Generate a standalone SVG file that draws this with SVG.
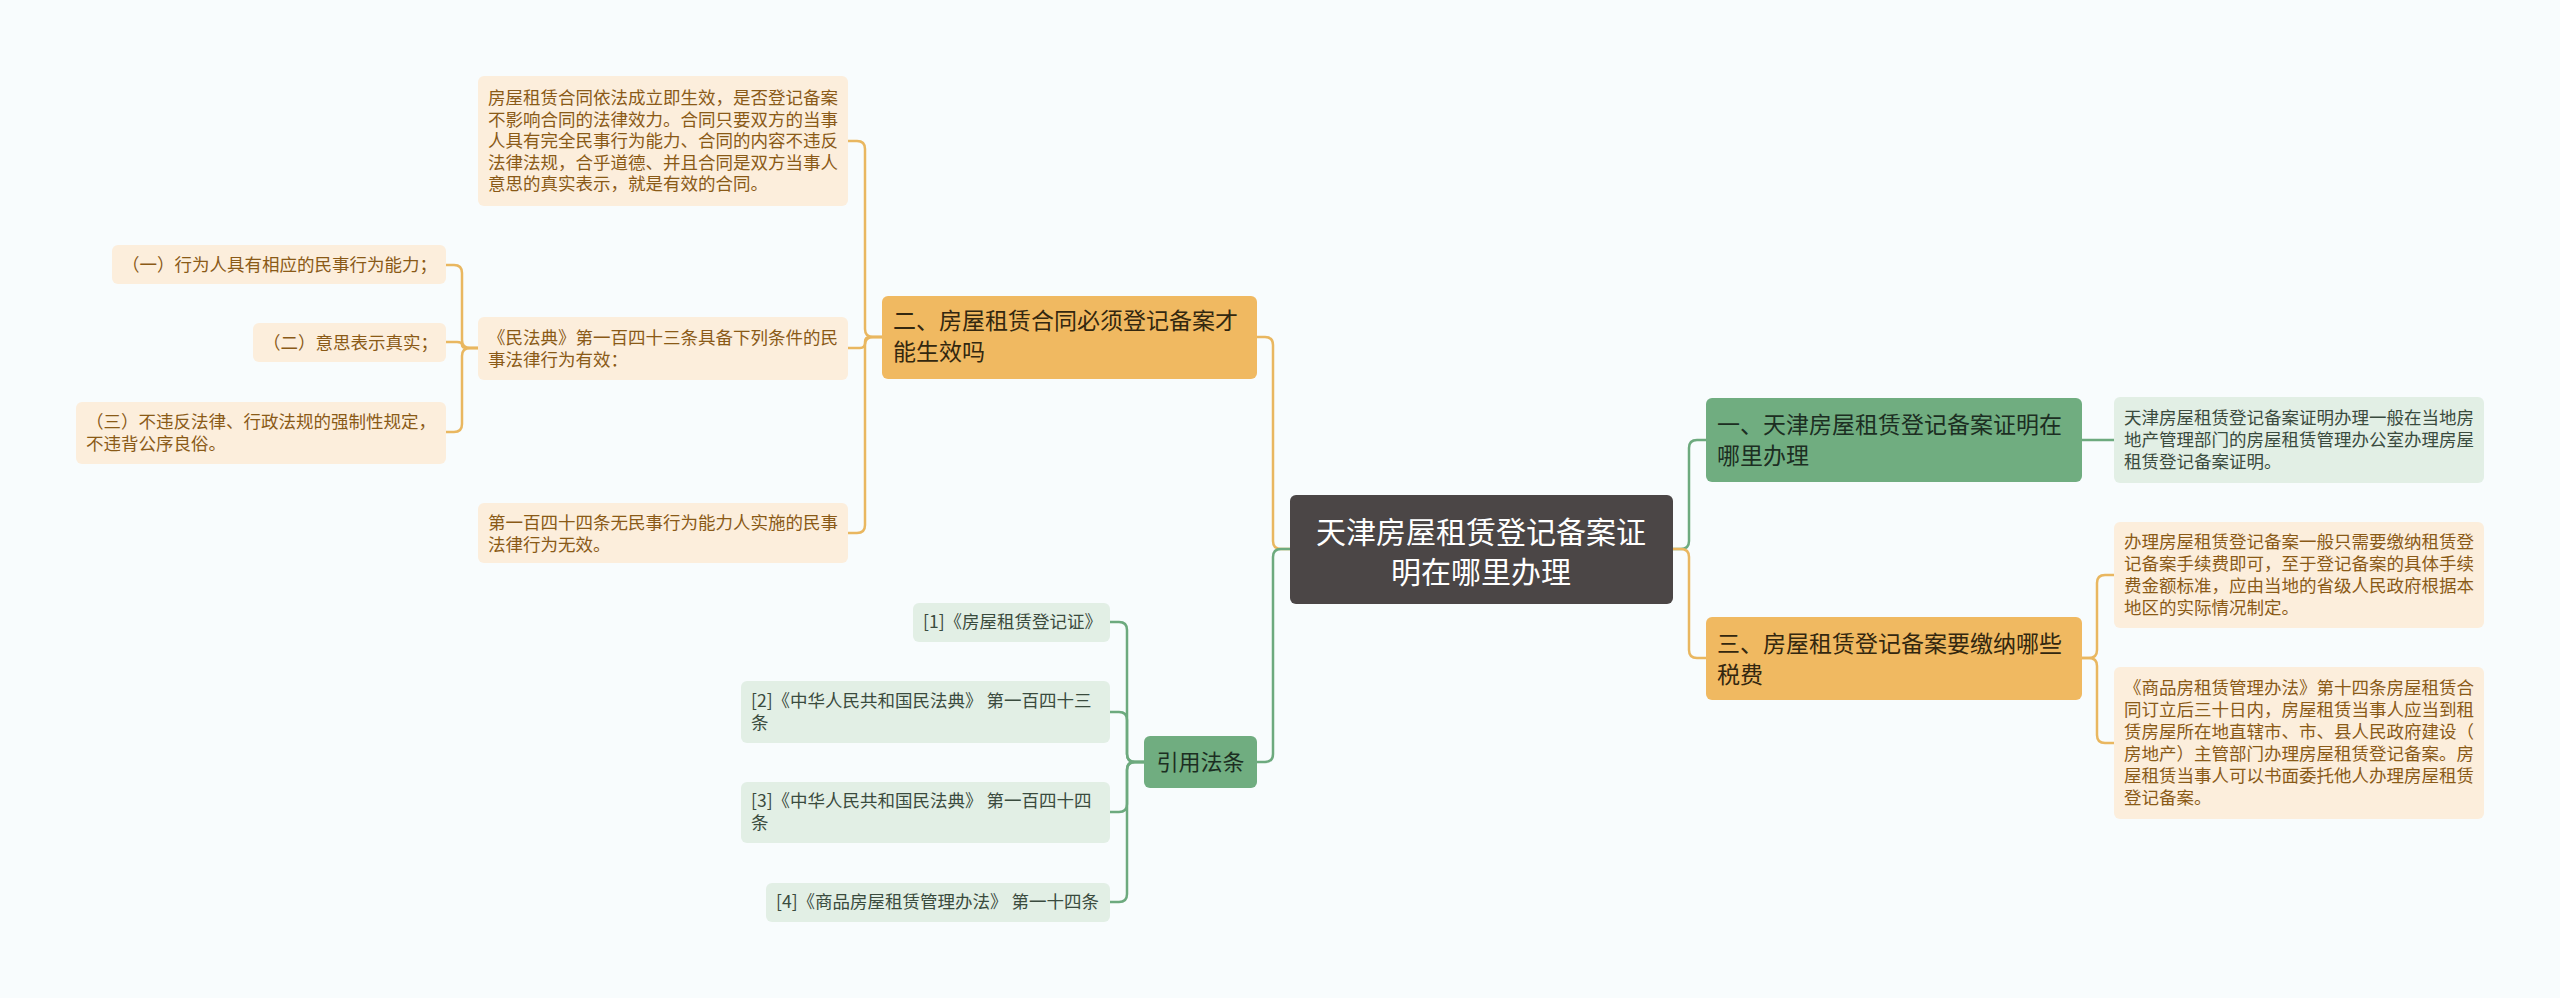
<svg xmlns="http://www.w3.org/2000/svg" width="2560" height="998" viewBox="0 0 2560 998">
<style>
.bg{fill:#F8FCFD}
text{font-family:"Noto Sans CJK SC","Noto Sans",sans-serif}
.root rect{fill:#4B4646}
.root text{fill:#FFFFFF;font-size:30px;text-anchor:middle}
.om rect{fill:#F0B961}
.om text{fill:#33270F;font-size:23px}
.gm rect{fill:#70AD80}
.gm text{fill:#1C2E22;font-size:23px}
.ol rect{fill:#FCEEDC}
.ol text{fill:#8A5A17;font-size:17.5px}
.gl rect{fill:#E2EFE5}
.gl text{fill:#3A4B3E;font-size:17.5px}
.co{fill:none;stroke:#E9B760;stroke-width:2.5}
.cg{fill:none;stroke:#6DAA7E;stroke-width:2.5}
</style>
<rect class="bg" x="0" y="0" width="2560" height="998"/>
<g id="connectors">
<path class="cg" d="M1673,549 H1681 Q1689,549 1689,541 V448 Q1689,440 1697,440 H1706"/>
<path class="co" d="M1673,549 H1681 Q1689,549 1689,557 V650 Q1689,658 1697,658 H1706"/>
<path class="cg" d="M2082,440 H2114"/>
<path class="co" d="M2082,658 H2089 Q2097,658 2097,650 V583 Q2097,575 2105,575 H2114"/>
<path class="co" d="M2082,658 H2089 Q2097,658 2097,666 V735 Q2097,743 2105,743 H2114"/>
<path class="co" d="M1290,549 H1281 Q1273,549 1273,541 V345 Q1273,337 1265,337 H1257"/>
<path class="cg" d="M1290,549 H1281 Q1273,549 1273,557 V754 Q1273,762 1265,762 H1257"/>
<path class="co" d="M882,337 H873 Q865,337 865,329 V149 Q865,141 857,141 H848"/>
<path class="co" d="M882,337 H870 Q865,337 865,342 V343 Q865,348 860,348 H848"/>
<path class="co" d="M882,337 H873 Q865,337 865,345 V525 Q865,533 857,533 H848"/>
<path class="co" d="M478,348 H470 Q462,348 462,340 V273 Q462,265 454,265 H446"/>
<path class="co" d="M478,348 H467 Q462,348 462,345 Q462,342 457,342 H446"/>
<path class="co" d="M478,348 H470 Q462,348 462,356 V424 Q462,432 454,432 H446"/>
<path class="cg" d="M1144,762 H1135 Q1127,762 1127,754 V630 Q1127,622 1119,622 H1110"/>
<path class="cg" d="M1144,762 H1135 Q1127,762 1127,754 V720 Q1127,712 1119,712 H1110"/>
<path class="cg" d="M1144,762 H1135 Q1127,762 1127,770 V804 Q1127,812 1119,812 H1110"/>
<path class="cg" d="M1144,762 H1135 Q1127,762 1127,770 V894 Q1127,902 1119,902 H1110"/>
</g>
<g id="root" class="root">
<rect x="1290" y="495" width="383" height="109" rx="6"/>
<text x="1481" y="543">天津房屋租赁登记备案证</text>
<text x="1481" y="583">明在哪里办理</text>
</g>
<g id="n2" class="om">
<rect x="882" y="296" width="375" height="83" rx="6"/>
<text x="893" y="329">二、房屋租赁合同必须登记备案才</text>
<text x="893" y="360">能生效吗</text>
</g>
<g id="n1" class="gm">
<rect x="1706" y="398" width="376" height="84" rx="6"/>
<text x="1717" y="433">一、天津房屋租赁登记备案证明在</text>
<text x="1717" y="464">哪里办理</text>
</g>
<g id="n3" class="om">
<rect x="1706" y="617" width="376" height="83" rx="6"/>
<text x="1717" y="652">三、房屋租赁登记备案要缴纳哪些</text>
<text x="1717" y="683">税费</text>
</g>
<g id="ncite" class="gm">
<rect x="1144" y="736" width="113" height="52" rx="6"/>
<text x="1200.5" y="770" text-anchor="middle" style="font-size:22px">引用法条</text>
</g>
<g id="l2a" class="ol">
<rect x="478" y="76" width="370" height="130" rx="6"/>
<text x="488" y="104">房屋租赁合同依法成立即生效，是否登记备案</text>
<text x="488" y="125.5">不影响合同的法律效力。合同只要双方的当事</text>
<text x="488" y="147">人具有完全民事行为能力、合同的内容不违反</text>
<text x="488" y="168.5">法律法规，合乎道德、并且合同是双方当事人</text>
<text x="488" y="190">意思的真实表示，就是有效的合同。</text>
</g>
<g id="l2b" class="ol">
<rect x="478" y="317" width="370" height="63" rx="6"/>
<text x="488" y="344">《民法典》第一百四十三条具备下列条件的民</text>
<text x="488" y="366">事法律行为有效：</text>
</g>
<g id="l2c" class="ol">
<rect x="478" y="503" width="370" height="60" rx="6"/>
<text x="488" y="528.5">第一百四十四条无民事行为能力人实施的民事</text>
<text x="488" y="551">法律行为无效。</text>
</g>
<g id="l2b1" class="ol">
<rect x="112" y="245" width="334" height="39" rx="6"/>
<text x="122" y="271">（一）行为人具有相应的民事行为能力；</text>
</g>
<g id="l2b2" class="ol">
<rect x="253" y="323" width="193" height="39" rx="6"/>
<text x="263" y="349">（二）意思表示真实；</text>
</g>
<g id="l2b3" class="ol">
<rect x="76" y="402" width="370" height="62" rx="6"/>
<text x="86" y="428">（三）不违反法律、行政法规的强制性规定，</text>
<text x="86" y="450">不违背公序良俗。</text>
</g>
<g id="l1a" class="gl">
<rect x="2114" y="397" width="370" height="86" rx="6"/>
<text x="2124" y="424">天津房屋租赁登记备案证明办理一般在当地房</text>
<text x="2124" y="446">地产管理部门的房屋租赁管理办公室办理房屋</text>
<text x="2124" y="468">租赁登记备案证明。</text>
</g>
<g id="l3a" class="ol">
<rect x="2114" y="522" width="370" height="106" rx="6"/>
<text x="2124" y="548">办理房屋租赁登记备案一般只需要缴纳租赁登</text>
<text x="2124" y="570">记备案手续费即可，至于登记备案的具体手续</text>
<text x="2124" y="592">费金额标准，应由当地的省级人民政府根据本</text>
<text x="2124" y="614">地区的实际情况制定。</text>
</g>
<g id="l3b" class="ol">
<rect x="2114" y="667" width="370" height="152" rx="6"/>
<text x="2124" y="694">《商品房租赁管理办法》第十四条房屋租赁合</text>
<text x="2124" y="716">同订立后三十日内，房屋租赁当事人应当到租</text>
<text x="2124" y="738">赁房屋所在地直辖市、市、县人民政府建设（</text>
<text x="2124" y="760">房地产）主管部门办理房屋租赁登记备案。房</text>
<text x="2124" y="782">屋租赁当事人可以书面委托他人办理房屋租赁</text>
<text x="2124" y="804">登记备案。</text>
</g>
<g id="c1" class="gl">
<rect x="913" y="603" width="197" height="39" rx="6"/>
<text x="923" y="628">[1]《房屋租赁登记证》</text>
</g>
<g id="c2" class="gl">
<rect x="741" y="681" width="369" height="62" rx="6"/>
<text x="751" y="707">[2]《中华人民共和国民法典》 第一百四十三</text>
<text x="751" y="729">条</text>
</g>
<g id="c3" class="gl">
<rect x="741" y="782" width="369" height="61" rx="6"/>
<text x="751" y="807">[3]《中华人民共和国民法典》 第一百四十四</text>
<text x="751" y="829">条</text>
</g>
<g id="c4" class="gl">
<rect x="766" y="883" width="344" height="39" rx="6"/>
<text x="776" y="908">[4]《商品房屋租赁管理办法》 第一十四条</text>
</g>
</svg>
